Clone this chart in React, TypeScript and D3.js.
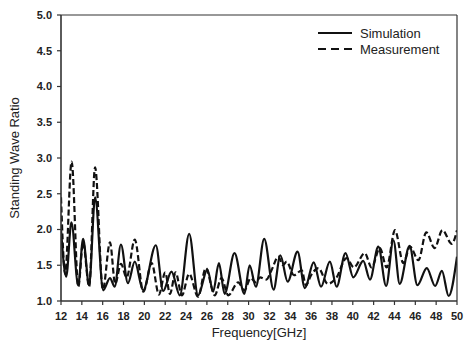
import React from "react";
import * as d3 from "d3";

// Frequency (GHz) and standing wave ratio, sampled at the turning points of each curve
const simFreq = [
  12.0, 12.5, 13.0, 13.65, 14.12, 14.7, 15.27, 16.05, 16.7, 17.15, 17.75, 18.42, 19.08, 19.88,
  21.1, 21.8, 22.6, 23.4, 24.3, 25.15, 26.05, 26.6, 27.15, 27.7, 28.65, 29.6, 30.1, 30.7, 31.5,
  32.4, 33.05, 33.75, 34.7, 35.4, 36.25, 36.95, 37.8, 38.45, 39.3, 40.05, 41.0, 41.65, 42.45,
  43.2, 43.9, 44.5, 45.45, 46.2, 47.1, 47.9, 48.55, 49.2, 50.0,
];
const simSwr = [
  2.0, 1.34, 2.1, 1.22, 1.87, 1.22, 2.45, 1.15, 1.32, 1.2, 1.79, 1.25, 1.55, 1.15,
  1.78, 1.14, 1.41, 1.08, 1.94, 1.08, 1.44, 1.13, 1.53, 1.1, 1.67, 1.1, 1.5, 1.2, 1.87,
  1.16, 1.64, 1.27, 1.69, 1.18, 1.54, 1.2, 1.55, 1.2, 1.67, 1.33, 1.56, 1.3, 1.76,
  1.21, 1.85, 1.24, 1.77, 1.22, 1.46, 1.21, 1.42, 1.07, 1.62,
];

const measFreq = [
  12.0, 12.4, 13.02, 13.66, 14.12, 14.7, 15.27, 16.02, 16.7, 17.2, 17.75, 18.3, 19.08, 19.9,
  20.7, 21.4, 22.0, 22.45, 23.0, 23.6, 24.3, 25.15, 25.9, 26.75, 27.4, 28.05, 29.0, 29.6,
  30.2, 30.7, 31.1, 31.7, 32.2, 32.85, 33.3, 33.65, 34.35, 35.1, 35.5, 36.0, 36.7, 37.6,
  38.4, 39.4, 40.1, 41.15, 41.8, 42.6, 43.25, 44.05, 44.85, 45.5, 46.3, 47.05, 47.85, 48.6,
  49.5, 50.0,
];
const measSwr = [
  2.45, 1.38, 2.95, 1.2, 1.82, 1.2, 2.87, 1.16, 1.82, 1.24, 1.52, 1.33, 1.86, 1.13,
  1.53, 1.09, 1.4, 1.1, 1.4, 1.08, 1.38, 1.06, 1.46, 1.08, 1.32, 1.08, 1.26, 1.15,
  1.32, 1.26, 1.33, 1.3, 1.43, 1.62, 1.5, 1.55, 1.36, 1.43, 1.22, 1.36, 1.46, 1.24,
  1.32, 1.6, 1.47, 1.67, 1.47, 1.74, 1.47, 1.99, 1.53, 1.76, 1.57, 1.96, 1.74, 1.99,
  1.8, 1.99,
];

const xTicks = d3.range(12, 51, 2);
const yTicks = [1.0, 1.5, 2.0, 2.5, 3.0, 3.5, 4.0, 4.5, 5.0];
const legendLabels = ["Simulation", "Measurement"];

const W = 466;
const H = 347;
const left = 61;
const right = 457;
const top = 15;
const bottom = 301;

export default function App() {
  const x = d3.scaleLinear().domain([12, 50]).range([left, right]);
  const y = d3.scaleLinear().domain([1, 5]).range([bottom, top]);

  const line = d3
    .line<[number, number]>()
    .x((d) => x(d[0]))
    .y((d) => y(d[1]))
    .curve(d3.curveMonotoneX);

  const simPath = line(simFreq.map((f, i) => [f, simSwr[i]] as [number, number])) || "";
  const measPath = line(measFreq.map((f, i) => [f, measSwr[i]] as [number, number])) || "";

  const font = "'Liberation Sans', Arial, sans-serif";

  return (
    <svg
      width={W}
      height={H}
      style={{ position: "fixed", left: 0, top: 0, display: "block", background: "#fff" }}
    >
      <rect x={0} y={0} width={W} height={H} fill="#fff" />
      <defs>
        <clipPath id="plotClip">
          <rect x={left} y={top} width={right - left} height={bottom - top} />
        </clipPath>
      </defs>

      {/* curves */}
      <g clipPath="url(#plotClip)">
        <path d={measPath} fill="none" stroke="#111" strokeWidth={2.2} strokeDasharray="6 3" />
        <path d={simPath} fill="none" stroke="#111" strokeWidth={2.2} />
      </g>

      {/* frame */}
      <line x1={left} x2={right} y1={top} y2={top} stroke="#333" strokeWidth={1.2} />
      <line x1={right} x2={right} y1={top} y2={bottom} stroke="#333" strokeWidth={1.2} />
      <line x1={left} x2={left} y1={top} y2={bottom} stroke="#333" strokeWidth={1.6} />
      <line x1={left} x2={right} y1={bottom} y2={bottom} stroke="#333" strokeWidth={1.6} />

      {/* x axis ticks */}
      {xTicks.map((t) => (
        <g key={`x${t}`}>
          <line x1={x(t)} x2={x(t)} y1={bottom} y2={bottom + 4} stroke="#333" strokeWidth={1.2} />
          <text
            x={x(t)}
            y={bottom + 19}
            textAnchor="middle"
            fontFamily={font}
            fontSize={11}
            fontWeight="bold"
            fill="#222"
          >
            {t}
          </text>
        </g>
      ))}

      {/* y axis ticks */}
      {yTicks.map((t) => (
        <g key={`y${t}`}>
          <line x1={left - 4} x2={left} y1={y(t)} y2={y(t)} stroke="#333" strokeWidth={1.2} />
          <text
            x={left - 9}
            y={y(t)}
            dy="0.35em"
            textAnchor="end"
            fontFamily={font}
            fontSize={11}
            fontWeight="bold"
            fill="#222"
          >
            {t.toFixed(1)}
          </text>
        </g>
      ))}

      {/* axis titles */}
      <text
        x={(left + right) / 2}
        y={337}
        textAnchor="middle"
        fontFamily={font}
        fontSize={13}
        fill="#222"
      >
        Frequency[GHz]
      </text>
      <text
        transform={`translate(19, ${(top + bottom) / 2}) rotate(-90)`}
        textAnchor="middle"
        fontFamily={font}
        fontSize={13}
        fill="#222"
      >
        Standing Wave Ratio
      </text>

      {/* legend */}
      <g>
        <line x1={318} x2={352} y1={33} y2={33} stroke="#111" strokeWidth={2} />
        <line x1={318} x2={352} y1={49} y2={49} stroke="#111" strokeWidth={2} strokeDasharray="8 5" />
        <text x={360} y={33} dy="0.35em" fontFamily={font} fontSize={13} fill="#222">
          {legendLabels[0]}
        </text>
        <text x={360} y={49} dy="0.35em" fontFamily={font} fontSize={13} fill="#222">
          {legendLabels[1]}
        </text>
      </g>
    </svg>
  );
}
